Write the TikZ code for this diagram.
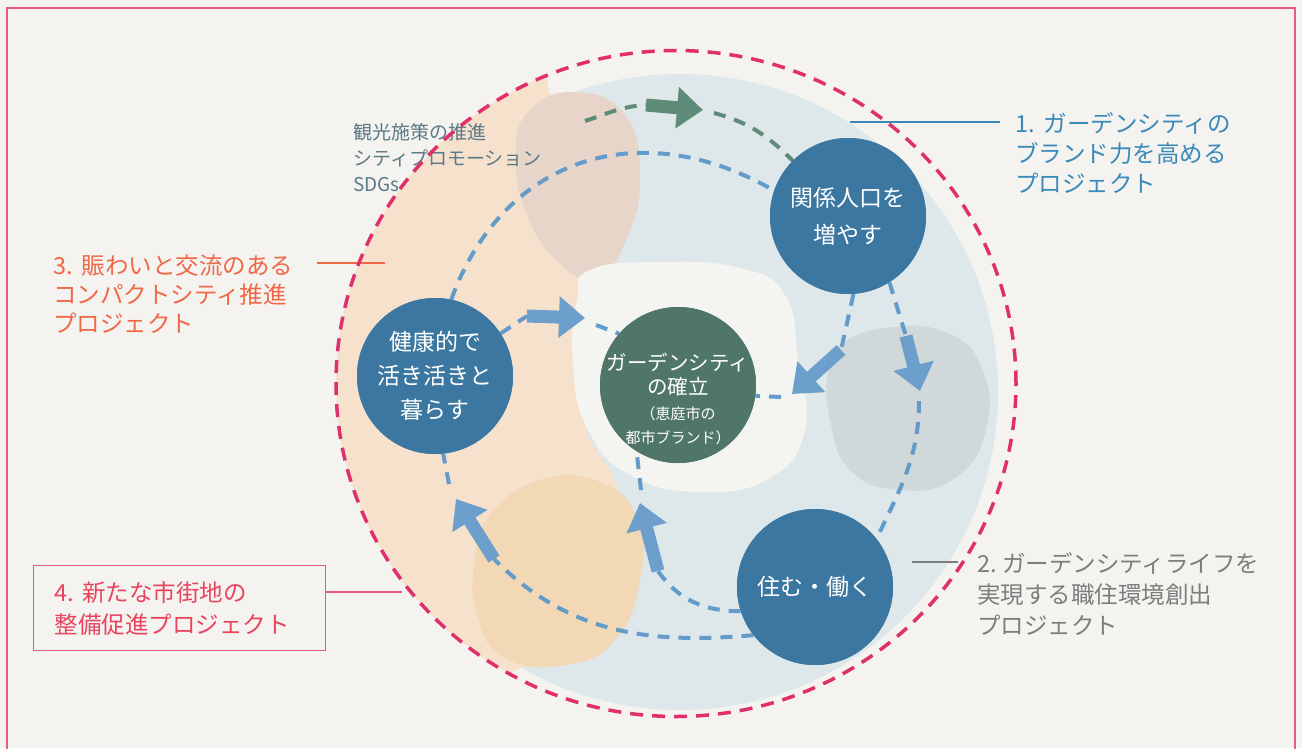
\documentclass[tikz,border=0pt]{standalone}
\usepackage{fontspec}
\setmainfont{Noto Sans CJK JP}
\usetikzlibrary{arrows.meta,calc}
\definecolor{bgc}{HTML}{F4F3EF}
\definecolor{framec}{HTML}{E65C7B}
\definecolor{ringc}{HTML}{E0306B}
\definecolor{diskc}{HTML}{DEE7EA}
\definecolor{peachc}{HTML}{F6E1CD}
\definecolor{tanc}{HTML}{E6D5C8}
\definecolor{greyc}{HTML}{D1D8DA}
\definecolor{orangec}{HTML}{F2D8B4}
\definecolor{whitec}{HTML}{F4F4F0}
\definecolor{nodeblue}{HTML}{3B77A1}
\definecolor{nodegreen}{HTML}{50766A}
\definecolor{dashblue}{HTML}{639BCB}
\definecolor{arrowblue}{HTML}{6C9FCC}
\definecolor{greenc}{HTML}{5E8C78}
\definecolor{tlc}{HTML}{5B7987}
\definecolor{lab1c}{HTML}{3A8AB9}
\definecolor{lab2c}{HTML}{7D7D7D}
\definecolor{lab3c}{HTML}{EF6848}
\definecolor{lab4c}{HTML}{E8445E}
\begin{document}
\begin{tikzpicture}[x=1pt,y=1pt,
  bdash/.style={draw=dashblue, line width=4pt, dash pattern=on 12pt off 9pt},
  gdash/.style={draw=greenc, line width=4pt, dash pattern=on 12pt off 9pt},
  barrow/.style={draw=arrowblue, line width=13pt, -{Triangle[width=40pt,length=26pt]}},
  garrow/.style={draw=greenc, line width=13pt, -{Triangle[width=40pt,length=26pt]}},
  bnode/.style={circle, fill=nodeblue, text=white, minimum size=156pt, inner sep=0pt, align=center},
  lbl/.style={anchor=west, inner sep=0pt, align=left},
  leader/.style={line width=1.3pt},
]
\useasboundingbox (0,0) rectangle (1302,-748);
\fill[bgc] (0,0) rectangle (1302,-748);
\draw[framec, line width=2.5pt] (7,-752) -- (7,-8) -- (1295,-8) -- (1295,-752);

% coloured areas
\fill[diskc] (680,-392) circle[radius=318];
\begin{scope}
  \clip (676,-383.5) ellipse[x radius=340, y radius=333];
  \fill[peachc] plot[smooth] coordinates {(548,-40) (552,-100) (612,-180) (596,-270) (580,-350) (586,-430) (615,-480) (632,-560) (600,-630) (520,-668) (455,-705) (430,-760)} -- (300,-760) -- (300,-40) -- cycle;
\end{scope}
\fill[tanc] plot[smooth cycle, tension=0.8] coordinates {(528,-112) (575,-92) (625,-115) (640,-175) (628,-235) (598,-278) (558,-262) (527,-215) (516,-160)};
\fill[greyc] plot[smooth cycle, tension=0.8] coordinates {(840,-345) (885,-328) (945,-332) (982,-368) (986,-430) (955,-478) (900,-490) (850,-470) (830,-420) (828,-370)};
\fill[orangec] plot[smooth cycle, tension=0.8] coordinates {(490,-515) (540,-480) (600,-482) (638,-520) (640,-580) (615,-640) (565,-665) (505,-658) (477,-615) (475,-560)};
\fill[whitec] plot[smooth cycle, tension=0.8] coordinates {(590,-270) (660,-262) (740,-268) (785,-295) (798,-360) (805,-430) (770,-478) (700,-492) (630,-475) (588,-430) (573,-365) (577,-300)};

% texts outside
\node[lbl, text=tlc, font=\fontsize{19}{26}\selectfont] (tl) at (353,-157.5) {観光施策の推進\\シティプロモーション\\SDGs};
\node[lbl, text=lab1c, font=\fontsize{23.5}{30}\selectfont] (lab1) at (1015,-153) {1.~\,ガーデンシティの\\ブランド力を高める\\プロジェクト};
\node[lbl, text=lab2c, font=\fontsize{23.5}{31}\selectfont] (lab2) at (977,-594) {2.~ガーデンシティライフを\\実現する職住環境創出\\プロジェクト};
\node[lbl, text=lab3c, font=\fontsize{23.5}{29}\selectfont] (lab3) at (53,-294) {3.~\,賑わいと交流のある\\コンパクトシティ推進\\プロジェクト};
\node[anchor=north west, draw=framec, line width=1.3pt, text=lab4c, text width=250pt, inner xsep=21pt, inner ysep=0pt, minimum height=85pt, align=left, font=\fontsize{23.5}{32}\selectfont] (lab4) at (33,-565) {4.~新たな市街地の\\整備促進プロジェクト};

% leader lines
\coordinate (l1a) at (850,-122);
\coordinate (l2a) at (912,-562);
\coordinate (l3a) at (317,-263);
\coordinate (l3b) at (385,-263);
\coordinate (l4b) at (402,-592);
\draw[leader, lab1c] (l1a) -- ([xshift=-15pt]l1a -| lab1.west);
\draw[leader, lab2c] (l2a) -- ([xshift=-19pt]l2a -| lab2.west);
\draw[leader, lab3c] (l3a) -- (l3b);
\draw[leader, framec] (lab4.east |- l4b) -- (l4b);

% nodes (positions)
\node[bnode] (kankei) at (848,-216) {};
\node[bnode] (kenko) at (435,-376) {};
\node[circle, fill=nodegreen, minimum size=156pt, inner sep=0pt] (garden) at (678,-385) {};
\node[bnode] (sumu) at (815,-587) {};

% arrow coordinates
\coordinate (a1s) at (527,-316); \coordinate (a1e) at (585,-318); \coordinate (a1d) at (596,-325);
\coordinate (a2s) at (841,-350); \coordinate (a2e) at (792,-394); \coordinate (a2d) at (781,-397);
\coordinate (a3s) at (906,-336); \coordinate (a3e) at (920,-391); \coordinate (a3d) at (919,-401);
\coordinate (a4s) at (494,-559); \coordinate (a4e) at (456,-499); \coordinate (a4d) at (449,-484);
\coordinate (a5s) at (658,-571); \coordinate (a5e) at (640,-503); \coordinate (a5d) at (641,-490);
\coordinate (g0) at (585,-121); \coordinate (gs) at (646,-105); \coordinate (ge) at (703,-110); \coordinate (gd) at (714,-113);

% dashed connectors
\draw[bdash] (kenko.78) to[out=70, in=150, looseness=1.15] (kankei.161);
\draw[gdash] (g0) to[out=18, in=183] (gs);
\draw[gdash] (gd) to[out=-15, in=135] (kankei.135);
\draw[bdash] (kenko.33) -- (a1s);
\draw[bdash] (a1d) -- (garden.139);
\draw[bdash] (kankei.-86) -- (a2s);
\draw[bdash] (a2d) -- (garden.-8);
\draw[bdash] (kankei.-58) -- (a3s);
\draw[bdash] (a3d) to[out=-90, in=65] (sumu.38);
\draw[bdash] (sumu.-142) to[out=185, in=-45] (a4s);
\draw[bdash] (a4d) -- (kenko.-84);
\draw[bdash] (sumu.-162) to[out=180, in=-55] (a5s);
\draw[bdash] (a5d) -- (garden.-122);

% block arrows
\draw[garrow] (gs) -- (ge);
\draw[barrow] (a1s) -- (a1e);
\draw[barrow] (a2s) -- (a2e);
\draw[barrow] (a3s) -- (a3e);
\draw[barrow] (a4s) -- (a4e);
\draw[barrow] (a5s) -- (a5e);

% nodes drawn on top of dash ends
\node[bnode, font=\fontsize{23}{37}\selectfont] at (kankei) {関係人口を\\増やす};
\node[bnode, font=\fontsize{23}{34}\selectfont] at (kenko) {健康的で\\活き活きと\\暮らす};
\node[circle, fill=nodegreen, minimum size=156pt, inner sep=0pt] at (garden) {};
\node[bnode, font=\fontsize{23}{34}\selectfont] at (sumu) {住む・働く};
\node[text=white, align=center, inner sep=0pt, font=\fontsize{20.5}{24}\selectfont] (gtext) at ([yshift=-14pt]garden.center) {ガーデンシティ\\の確立\\[1pt]\fontsize{15}{19}\selectfont （恵庭市の\\\fontsize{15}{19}\selectfont 都市ブランド）};

% outer dashed ring
\draw[ringc, line width=3.5pt, dash pattern=on 13pt off 9pt] (676,-383.5) ellipse[x radius=340, y radius=333];
\end{tikzpicture}
\end{document}
